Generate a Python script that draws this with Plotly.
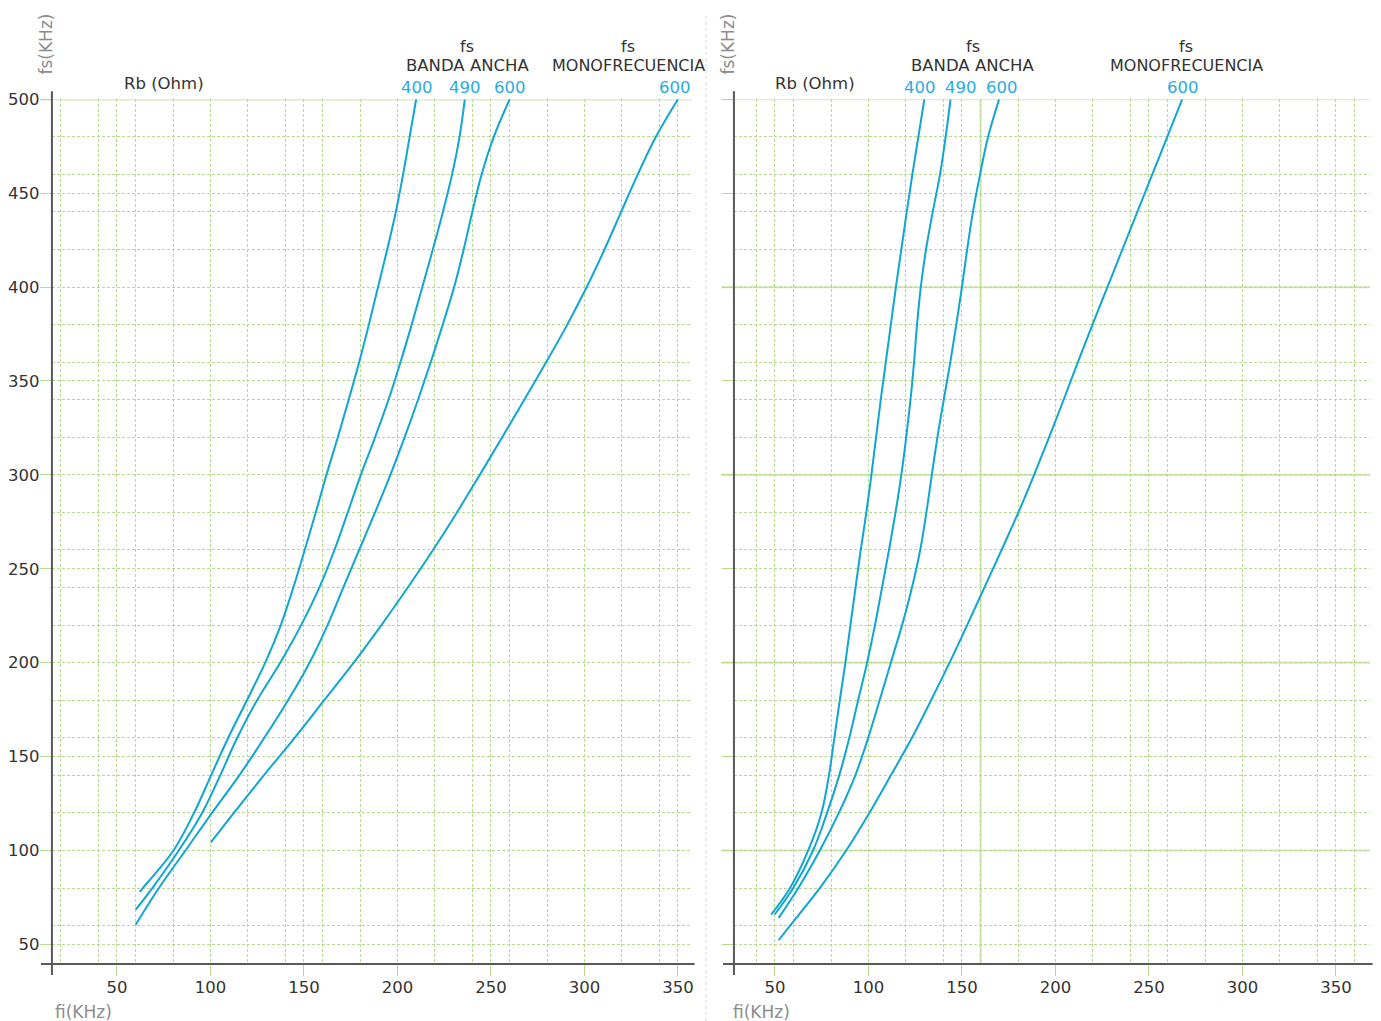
import plotly.graph_objects as go

W, H = 1381, 1021
FONT = "DejaVu Sans"

# ---------------- DATA ----------------
# Left chart: fi (KHz) vs fs (KHz) for each Rb (Ohm)
L_ba400_fs = [78, 80, 100, 120, 140, 160, 180, 200, 220, 240, 260, 280, 300, 320, 340, 360, 380, 400, 420, 440, 460, 480, 500]
L_ba400_fi = [62.1, 63.8, 80.2, 91.2, 100.3, 109.5, 119.5, 129.3, 137.6, 144.3, 150.4, 156.3, 162.0, 168.1, 173.9, 179.5, 184.7, 189.6, 194.5, 199.1, 203.0, 206.5, 210.0]

L_ba490_fs = [68.5, 80, 100, 120, 140, 160, 180, 200, 220, 240, 260, 280, 300, 320, 340, 360, 380, 400, 420, 440, 460, 480, 500]
L_ba490_fi = [60.0, 68.9, 83.0, 95.5, 105.2, 114.3, 124.9, 137.3, 148.5, 158.2, 166.3, 173.4, 180.4, 188.0, 195.2, 201.6, 207.6, 213.3, 218.9, 224.3, 229.2, 233.2, 236.0]

L_ba600_fs = [60.5, 80, 100, 120, 140, 160, 180, 200, 220, 240, 260, 280, 300, 320, 340, 360, 380, 400, 420, 440, 460, 480, 500]
L_ba600_fi = [60.0, 72.4, 86.6, 100.8, 115.4, 128.8, 141.5, 153.0, 162.6, 171.0, 179.5, 188.0, 196.2, 203.8, 211.0, 217.8, 224.2, 230.3, 235.4, 240.0, 245.0, 251.5, 260.0]

L_mo600_fs = [104.3, 120, 140, 160, 180, 200, 220, 240, 260, 280, 300, 320, 340, 360, 380, 400, 420, 440, 460, 480, 500]
L_mo600_fi = [100.2, 112.5, 128.5, 145.0, 160.8, 176.6, 191.4, 205.5, 219.0, 231.8, 244.0, 256.0, 267.8, 279.5, 290.8, 301.2, 310.7, 319.6, 328.5, 338.2, 350.0]

# Right chart
R_ba400_fs = [65.9, 80, 100, 120, 140, 160, 180, 200, 220, 240, 260, 280, 300, 320, 340, 360, 380, 400, 420, 440, 460, 480, 500]
R_ba400_fi = [48.0, 58.1, 67.8, 74.9, 78.9, 81.8, 84.7, 87.7, 90.4, 93.1, 95.9, 98.9, 101.6, 104.1, 106.6, 109.3, 112.0, 114.7, 117.6, 120.5, 123.5, 126.7, 129.9]

R_ba490_fs = [65.9, 80, 100, 120, 140, 160, 180, 200, 220, 240, 260, 280, 300, 320, 340, 360, 380, 400, 420, 440, 460, 480, 500]
R_ba490_fi = [49.9, 59.8, 70.4, 77.9, 84.4, 89.8, 94.5, 99.3, 103.5, 107.3, 111.0, 114.5, 117.6, 120.2, 122.5, 124.4, 126.0, 128.0, 130.8, 134.4, 138.3, 141.3, 143.9]

R_ba600_fs = [64.1, 80, 100, 120, 140, 160, 180, 200, 220, 240, 260, 280, 300, 320, 340, 360, 380, 400, 420, 440, 460, 480, 500]
R_ba600_fi = [52.0, 62.5, 74.0, 84.2, 93.0, 99.9, 106.0, 112.0, 118.0, 123.3, 127.7, 131.0, 133.9, 136.9, 140.3, 143.8, 147.0, 150.0, 152.8, 155.9, 159.7, 164.0, 169.9]

R_mo600_fs = [52.2, 60, 80, 100, 120, 140, 160, 180, 200, 220, 240, 260, 280, 300, 320, 340, 360, 380, 400, 420, 440, 460, 480, 500]
R_mo600_fi = [52.0, 58.1, 74.0, 88.1, 100.5, 112.0, 123.3, 133.5, 143.4, 152.8, 162.0, 171.2, 180.2, 188.6, 196.6, 204.4, 212.0, 219.8, 227.8, 235.8, 243.8, 251.8, 259.8, 267.8]

rb_labels = ["400", "490", "600", "600"]
x_ticks = [50, 100, 150, 200, 250, 300, 350]
y_ticks = [50, 100, 150, 200, 250, 300, 350, 400, 450, 500]
x_minor = [20, 40, 60, 80, 120, 140, 160, 180, 220, 240, 260, 280, 320, 340, 360]
y_minor = [60, 80, 120, 140, 160, 180, 220, 240, 260, 280, 320, 340, 360, 380, 420, 440, 460, 480]
right_solid_y = [100, 200, 300, 400, 500]
right_solid_x = [160]

# ---------------- STYLE ----------------
CURVE = "#0fa6d2"
LABEL = "#2aace0"
GRID = "#b8da8c"
SOLID = "#d6e9bd"
AXIS = "#585858"
TXT = "#333333"
GREY = "#8c8c8c"
FS = 16.5


def vy(py):
    # vertical placement correction measured from previous renders
    return (py - 8.4) / 0.9917


def px2paper(px, py):
    return px / W, 1 - vy(py) / H


TOP, BOT = vy(98.7), vy(964)
LX = [52 / W, 693 / W]
RX = [735 / W, 1372 / W]
YD = [1 - BOT / H, 1 - TOP / H]
L_range = [15.2, 357.5]
R_range = [28.1, 368.2]
Y_range = [39.5, 500]
dh = BOT - TOP

fig = go.Figure()

left_series = [(L_ba400_fi, L_ba400_fs), (L_ba490_fi, L_ba490_fs), (L_ba600_fi, L_ba600_fs), (L_mo600_fi, L_mo600_fs)]
right_series = [(R_ba400_fi, R_ba400_fs), (R_ba490_fi, R_ba490_fs), (R_ba600_fi, R_ba600_fs), (R_mo600_fi, R_mo600_fs)]

for fi, fs in left_series:
    fig.add_trace(go.Scatter(x=fi, y=fs, mode="lines", xaxis="x", yaxis="y",
                             line=dict(color=CURVE, width=2, shape="spline", smoothing=1.0),
                             hoverinfo="skip", showlegend=False))
for fi, fs in right_series:
    fig.add_trace(go.Scatter(x=fi, y=fs, mode="lines", xaxis="x2", yaxis="y2",
                             line=dict(color=CURVE, width=2, shape="spline", smoothing=1.0),
                             hoverinfo="skip", showlegend=False))


def axis(rng, dom, tickvals, minorvals, anchor, labels=True, standoff=0):
    return dict(range=rng, domain=dom, anchor=anchor, tickmode="array", tickvals=tickvals,
                showticklabels=labels, ticks="outside", ticklen=11, tickwidth=1, tickcolor=GRID,
                ticklabelstandoff=standoff,
                showgrid=True, gridcolor=GRID, gridwidth=1, griddash="3px,2px",
                zeroline=False, showline=False, fixedrange=True,
                tickfont=dict(family=FONT, size=FS, color=TXT),
                minor=dict(tickmode="array", tickvals=minorvals, showgrid=True, gridcolor=GRID,
                           gridwidth=1, griddash="3px,2px", ticks=""))


shapes = []
annotations = []

# solid grid lines
shapes.append(dict(type="line", xref="x domain", yref="y", x0=-10 / 641, x1=1, y0=500, y1=500,
                   line=dict(color=SOLID, width=2.5), layer="below"))
for yv in right_solid_y:
    shapes.append(dict(type="line", xref="x2 domain", yref="y2", x0=-13 / 637, x1=1, y0=yv, y1=yv,
                       line=dict(color=SOLID, width=2.2), layer="below"))
for xv in right_solid_x:
    shapes.append(dict(type="line", xref="x2", yref="y2 domain", x0=xv, x1=xv, y0=0, y1=1,
                       line=dict(color=SOLID, width=2.2), layer="below"))

# axis lines
for xa, ya, w in [("x", "y", 641.0), ("x2", "y2", 637.0)]:
    shapes.append(dict(type="line", xref=xa + " domain", yref=ya + " domain", x0=0, x1=0,
                       y0=-11 / dh, y1=1 + 8 / dh, line=dict(color=AXIS, width=2), layer="above"))
    shapes.append(dict(type="line", xref=xa + " domain", yref=ya + " domain", x0=-11 / w, x1=1.004,
                       y0=0, y1=0, line=dict(color=AXIS, width=2), layer="above"))

# separator
sx, sy = px2paper(707, 15)
shapes.append(dict(type="line", xref="paper", yref="paper", x0=sx, x1=sx, y0=0, y1=sy,
                   line=dict(color="#d6d6d6", width=1, dash="dot"), layer="above"))


def text(t, px, py, color=TXT, size=FS, angle=0):
    x, y = px2paper(px, py)
    annotations.append(dict(text=t, x=x, y=y, xref="paper", yref="paper", xanchor="center",
                            yanchor="middle", showarrow=False, textangle=angle,
                            font=dict(family=FONT, size=size, color=color)))


# left headers
text("fs(KHz)", 46, 43, GREY, 17, -90)
text("Rb (Ohm)", 164, 83)
text("fs", 468, 46, TXT, 16)
text("BANDA ANCHA", 468, 65, TXT, 16.5)
text("fs", 629, 46, TXT, 16)
text("MONOFRECUENCIA", 629, 65, TXT, 16)
text("fi(KHz)", 84, 1012, GREY, 17)
# right headers
text("fs(KHz)", 729, 43, GREY, 17, -90)
text("Rb (Ohm)", 816, 83)
text("fs", 974, 46, TXT, 16)
text("BANDA ANCHA", 974, 65, TXT, 16.5)
text("fs", 1188, 46, TXT, 16)
text("MONOFRECUENCIA", 1188, 65, TXT, 16)
text("fi(KHz)", 763, 1012, GREY, 17)

left_shift = [1, 0, 0, -3]
right_shift = [-4, 10, 3, 1]
for (fi, fs), lab, s in zip(left_series, rb_labels, left_shift):
    annotations.append(dict(text=lab, x=fi[-1], y=fs[-1], xref="x", yref="y", xanchor="center",
                            yanchor="bottom", yshift=0, xshift=s, showarrow=False,
                            font=dict(family=FONT, size=FS, color=LABEL)))
for (fi, fs), lab, s in zip(right_series, rb_labels, right_shift):
    annotations.append(dict(text=lab, x=fi[-1], y=fs[-1], xref="x2", yref="y2", xanchor="center",
                            yanchor="bottom", yshift=0, xshift=s, showarrow=False,
                            font=dict(family=FONT, size=FS, color=LABEL)))

fig.update_layout(
    width=W, height=H,
    margin=dict(l=0, r=0, t=0, b=0),
    paper_bgcolor="white", plot_bgcolor="white",
    showlegend=False,
    xaxis=axis(L_range, LX, x_ticks, x_minor, "y", standoff=-3),
    yaxis=axis(Y_range, YD, y_ticks, y_minor, "x", standoff=-3),
    xaxis2=axis(R_range, RX, x_ticks, x_minor, "y2", standoff=-3),
    yaxis2=axis(Y_range, YD, y_ticks, y_minor, "x2", labels=False),
    shapes=shapes,
    annotations=annotations,
)

page_fix = ("document.body.style.margin='0';document.body.style.padding='0';"
            "document.body.style.overflow='hidden';document.documentElement.style.overflow='hidden';"
            "window.scrollTo(0,0);")
fig.write_html("out.html", post_script=page_fix, config={"displayModeBar": False})
